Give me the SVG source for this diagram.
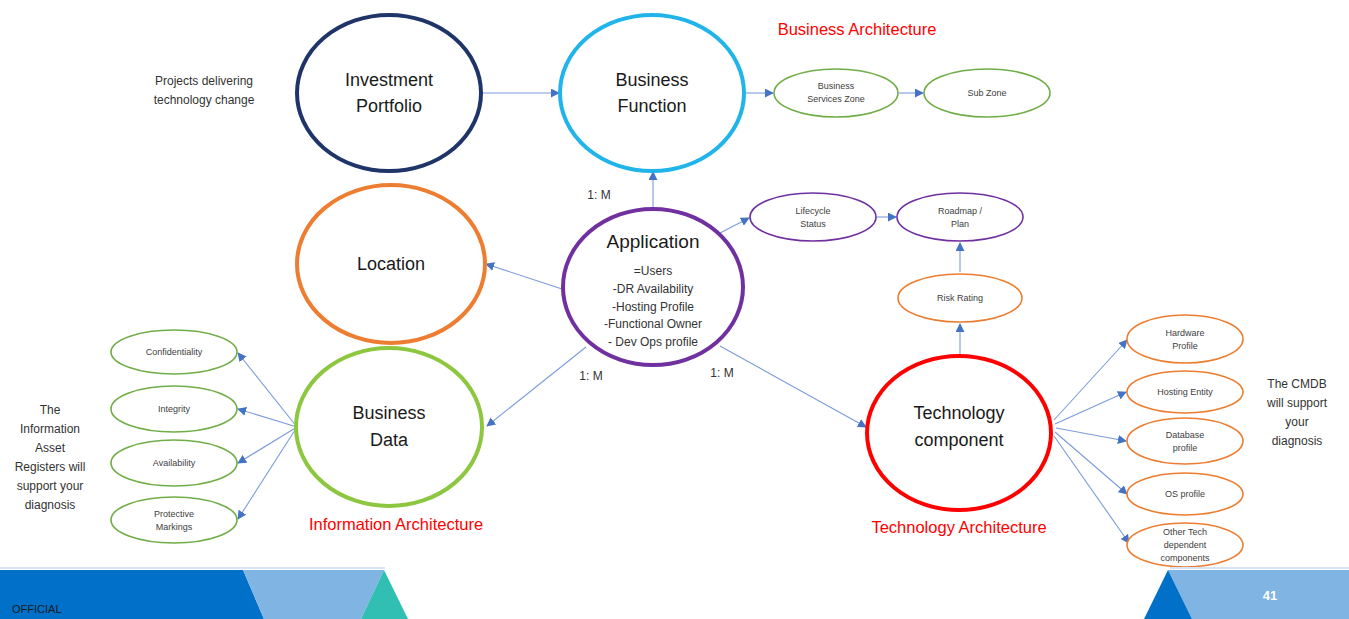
<svg xmlns="http://www.w3.org/2000/svg" width="1349" height="619" viewBox="0 0 1349 619">
<defs>
<marker id="ah" viewBox="0 0 10 10" refX="9" refY="5" markerWidth="9" markerHeight="9" markerUnits="userSpaceOnUse" orient="auto">
<path d="M0,0 L10,5 L0,10 z" fill="#4472c4"/>
</marker>
<style>
.big{fill:#fff;stroke-width:4}
.sm{fill:#fff;stroke-width:1.6}
.t{font-family:"Liberation Sans",Arial,sans-serif;fill:#1a1a1a;text-anchor:middle}
.bt{font-size:18px}
.st{font-size:9px;fill:#404040}
.nt{font-size:12px;fill:#333}
.red{font-size:16.5px;fill:#ff0000}
.c line{stroke:#7a9bdc;stroke-width:1.1;marker-end:url(#ah)}
</style>
</defs>
<rect width="1349" height="619" fill="#fff"/>

<g class="c">
<line x1="482" y1="93" x2="559" y2="93"/>
<line x1="745" y1="93" x2="773" y2="93"/>
<line x1="899" y1="93" x2="923" y2="93"/>
<line x1="653" y1="208" x2="653" y2="172"/>
<line x1="720" y1="233" x2="749" y2="218"/>
<line x1="877" y1="217" x2="896" y2="217"/>
<line x1="960" y1="272" x2="960" y2="243"/>
<line x1="960" y1="354" x2="960" y2="324"/>
<line x1="562" y1="289" x2="486" y2="264"/>
<line x1="586" y1="347" x2="487" y2="426"/>
<line x1="720" y1="346" x2="866" y2="427"/>
<line x1="297" y1="427" x2="238" y2="353"/>
<line x1="297" y1="427" x2="238" y2="409"/>
<line x1="297" y1="427" x2="238" y2="463"/>
<line x1="297" y1="427" x2="238" y2="519"/>
<line x1="1054" y1="420" x2="1127" y2="340"/>
<line x1="1055" y1="424" x2="1126" y2="392"/>
<line x1="1056" y1="428" x2="1126" y2="441"/>
<line x1="1055" y1="432" x2="1127" y2="494"/>
<line x1="1054" y1="436" x2="1129" y2="543"/>
</g>

<g id="investment-portfolio">
<ellipse class="big" cx="389" cy="93" rx="92" ry="78" stroke="#1f3469"/>
<text class="t bt" x="389" y="86">Investment</text>
<text class="t bt" x="389" y="112">Portfolio</text>
</g>
<g id="business-function">
<ellipse class="big" cx="652" cy="93" rx="92" ry="78" stroke="#20b4ea"/>
<text class="t bt" x="652" y="86">Business</text>
<text class="t bt" x="652" y="112">Function</text>
</g>
<g id="location">
<ellipse class="big" cx="391" cy="264" rx="94" ry="79" stroke="#ed7d31"/>
<text class="t bt" x="391" y="270">Location</text>
</g>
<g id="application">
<ellipse class="big" cx="653" cy="287" rx="90" ry="78" stroke="#7030a0"/>
<text class="t" x="653" y="248" font-size="19">Application</text>
<text class="t nt" x="653" y="275">=Users</text>
<text class="t nt" x="653" y="293">-DR Availability</text>
<text class="t nt" x="653" y="311">-Hosting Profile</text>
<text class="t nt" x="653" y="328">-Functional Owner</text>
<text class="t nt" x="653" y="346">- Dev Ops profile</text>
</g>
<g id="business-data">
<ellipse class="big" cx="389" cy="427" rx="93" ry="79" stroke="#8dc63f"/>
<text class="t bt" x="389" y="419">Business</text>
<text class="t bt" x="389" y="446">Data</text>
</g>
<g id="technology-component">
<ellipse class="big" cx="959" cy="433" rx="92" ry="77" stroke="#ff0000"/>
<text class="t bt" x="959" y="419">Technology</text>
<text class="t bt" x="959" y="446">component</text>
</g>

<g id="business-services-zone">
<ellipse class="sm" cx="836" cy="93" rx="62" ry="24" stroke="#70ad47"/>
<text class="t st" x="836" y="89">Business</text>
<text class="t st" x="836" y="102">Services Zone</text>
</g>
<g id="sub-zone">
<ellipse class="sm" cx="987" cy="93" rx="63" ry="24" stroke="#70ad47"/>
<text class="t st" x="987" y="96">Sub Zone</text>
</g>
<g id="lifecycle-status">
<ellipse class="sm" cx="813" cy="217" rx="63" ry="24" stroke="#7030a0"/>
<text class="t st" x="813" y="214">Lifecycle</text>
<text class="t st" x="813" y="227">Status</text>
</g>
<g id="roadmap-plan">
<ellipse class="sm" cx="960" cy="217" rx="63" ry="24" stroke="#7030a0"/>
<text class="t st" x="960" y="214">Roadmap /</text>
<text class="t st" x="960" y="227">Plan</text>
</g>
<g id="risk-rating">
<ellipse class="sm" cx="960" cy="298" rx="62" ry="24" stroke="#ed7d31"/>
<text class="t st" x="960" y="301">Risk Rating</text>
</g>

<g id="confidentiality">
<ellipse class="sm" cx="174" cy="352" rx="63" ry="22" stroke="#70ad47"/>
<text class="t st" x="174" y="355">Confidentiality</text>
</g>
<g id="integrity">
<ellipse class="sm" cx="174" cy="409" rx="63" ry="23" stroke="#70ad47"/>
<text class="t st" x="174" y="412">Integrity</text>
</g>
<g id="availability">
<ellipse class="sm" cx="174" cy="463" rx="63" ry="23" stroke="#70ad47"/>
<text class="t st" x="174" y="466">Availability</text>
</g>
<g id="protective-markings">
<ellipse class="sm" cx="174" cy="520" rx="63" ry="23" stroke="#70ad47"/>
<text class="t st" x="174" y="517">Protective</text>
<text class="t st" x="174" y="530">Markings</text>
</g>

<g id="hardware-profile">
<ellipse class="sm" cx="1185" cy="339" rx="58" ry="24" stroke="#ed7d31"/>
<text class="t st" x="1185" y="336">Hardware</text>
<text class="t st" x="1185" y="349">Profile</text>
</g>
<g id="hosting-entity">
<ellipse class="sm" cx="1185" cy="392" rx="58" ry="21" stroke="#ed7d31"/>
<text class="t st" x="1185" y="395">Hosting Entity</text>
</g>
<g id="database-profile">
<ellipse class="sm" cx="1185" cy="441" rx="58" ry="23" stroke="#ed7d31"/>
<text class="t st" x="1185" y="438">Database</text>
<text class="t st" x="1185" y="451">profile</text>
</g>
<g id="os-profile">
<ellipse class="sm" cx="1185" cy="494" rx="58" ry="21" stroke="#ed7d31"/>
<text class="t st" x="1185" y="497">OS profile</text>
</g>
<g id="other-tech">
<ellipse class="sm" cx="1185" cy="545" rx="58" ry="22" stroke="#ed7d31"/>
<text class="t st" x="1185" y="535">Other Tech</text>
<text class="t st" x="1185" y="548">dependent</text>
<text class="t st" x="1185" y="561">components</text>
</g>

<g id="labels">
<text class="t nt" x="599" y="199" font-size="11">1: M</text>
<text class="t nt" x="591" y="380" font-size="11">1: M</text>
<text class="t nt" x="722" y="377" font-size="11">1: M</text>
<text class="t red" x="857" y="35">Business Architecture</text>
<text class="t red" x="396" y="530">Information Architecture</text>
<text class="t red" x="959" y="533">Technology Architecture</text>
<text class="t nt" x="204" y="85">Projects delivering</text>
<text class="t nt" x="204" y="104">technology change</text>
<text class="t nt" x="50" y="414">The</text>
<text class="t nt" x="50" y="433">Information</text>
<text class="t nt" x="50" y="452">Asset</text>
<text class="t nt" x="50" y="471">Registers will</text>
<text class="t nt" x="50" y="490">support your</text>
<text class="t nt" x="50" y="509">diagnosis</text>
<text class="t nt" x="1297" y="388">The CMDB</text>
<text class="t nt" x="1297" y="407">will support</text>
<text class="t nt" x="1297" y="426">your</text>
<text class="t nt" x="1297" y="445">diagnosis</text>
</g>

<g id="banner">
<rect x="0" y="567" width="385" height="2" fill="#d6e4f3"/>
<rect x="1170" y="567" width="179" height="2" fill="#d6e4f3"/>
<polygon points="0,570 243,570 264,619 0,619" fill="#0070c8"/>
<polygon points="243,570 384,570 361,619 264,619" fill="#80b5e3"/>
<polygon points="384,570 408,619 361,619" fill="#30bfb2"/>
<polygon points="1168,570 1349,570 1349,619 1192,619" fill="#80b5e3"/>
<polygon points="1168,570 1192,619 1144,619" fill="#0070c8"/>
<text x="12" y="613" font-family="'Liberation Sans',Arial,sans-serif" font-size="11" fill="#1a1a1a">OFFICIAL</text>
<text x="1270" y="600" font-family="'Liberation Sans',Arial,sans-serif" font-size="13" font-weight="bold" fill="#fff" text-anchor="middle">41</text>
</g>
</svg>
